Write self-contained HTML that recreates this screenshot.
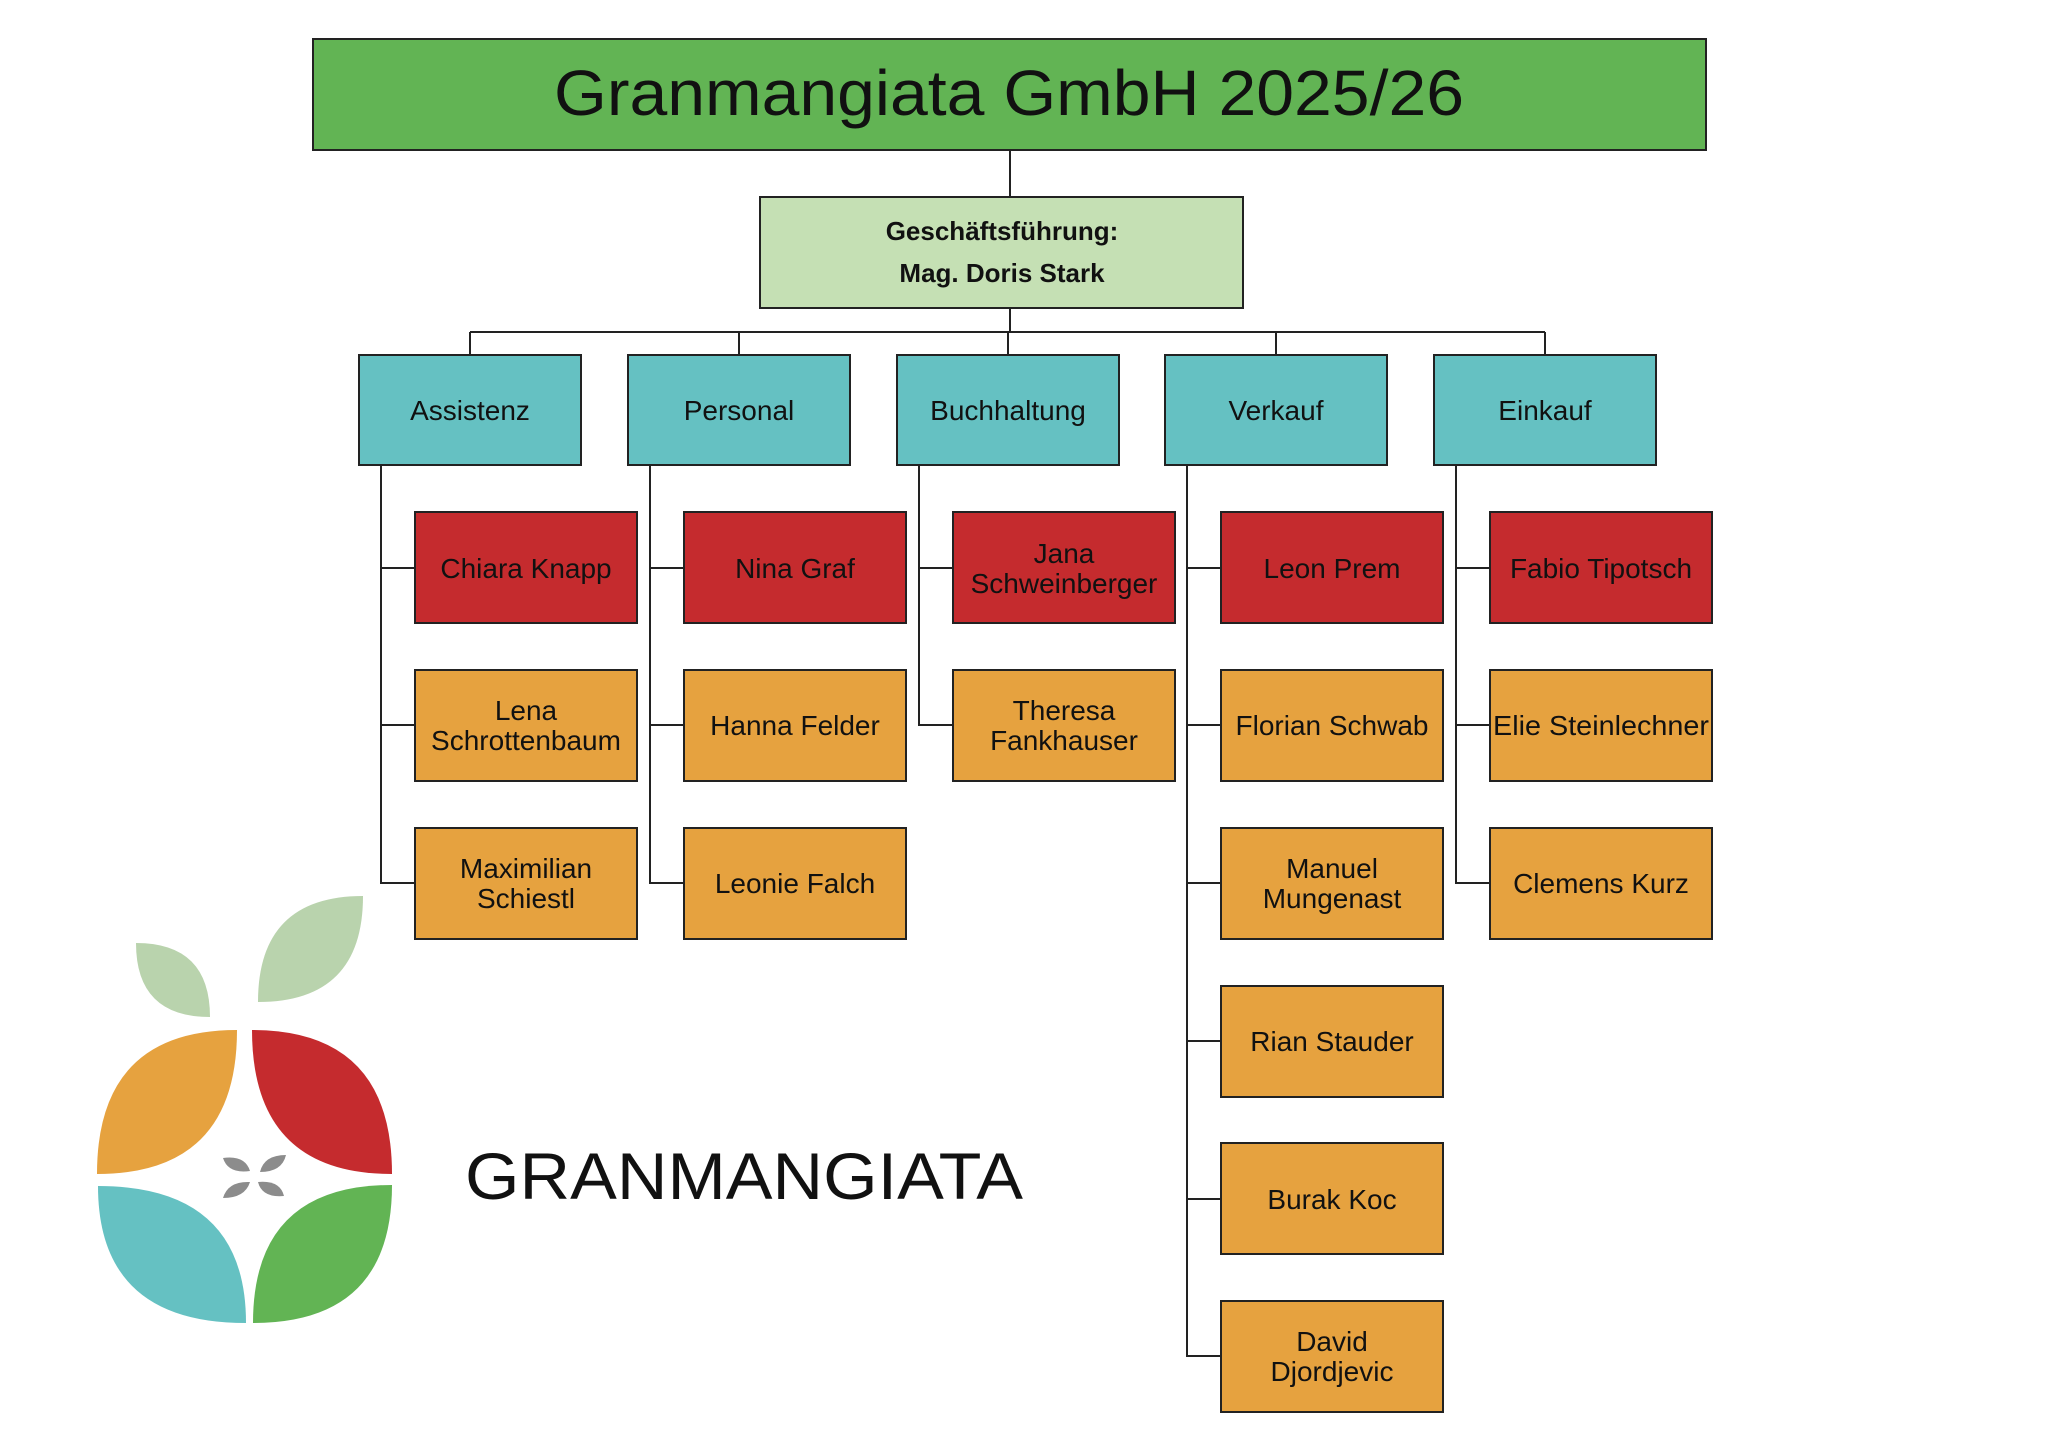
<!DOCTYPE html>
<html><head><meta charset="utf-8"><style>
html,body{margin:0;padding:0;background:#fff}
svg{display:block}
text{font-family:"Liberation Sans","DejaVu Sans",sans-serif;fill:#111}
</style></head><body>
<svg width="2048" height="1449" viewBox="0 0 2048 1449" xmlns="http://www.w3.org/2000/svg">
<g stroke="#222" stroke-width="2" fill="none">
<line x1="1010" y1="150" x2="1010" y2="197"/>
<line x1="1010" y1="308" x2="1010" y2="332"/>
<line x1="470" y1="332" x2="1545" y2="332"/>
<line x1="470" y1="332" x2="470" y2="355"/>
<line x1="739" y1="332" x2="739" y2="355"/>
<line x1="1008" y1="332" x2="1008" y2="355"/>
<line x1="1276" y1="332" x2="1276" y2="355"/>
<line x1="1545" y1="332" x2="1545" y2="355"/>
<!-- trunks -->
<polyline points="381,465 381,883 415,883"/>
<line x1="381" y1="568" x2="415" y2="568"/><line x1="381" y1="725" x2="415" y2="725"/>
<polyline points="650,465 650,883 684,883"/>
<line x1="650" y1="568" x2="684" y2="568"/><line x1="650" y1="725" x2="684" y2="725"/>
<polyline points="919,465 919,725 953,725"/>
<line x1="919" y1="568" x2="953" y2="568"/>
<polyline points="1187,465 1187,1356 1221,1356"/>
<line x1="1187" y1="568" x2="1221" y2="568"/><line x1="1187" y1="725" x2="1221" y2="725"/><line x1="1187" y1="883" x2="1221" y2="883"/><line x1="1187" y1="1041" x2="1221" y2="1041"/><line x1="1187" y1="1199" x2="1221" y2="1199"/>
<polyline points="1456,465 1456,883 1490,883"/>
<line x1="1456" y1="568" x2="1490" y2="568"/><line x1="1456" y1="725" x2="1490" y2="725"/>
</g>
<rect x="313" y="39" width="1393" height="111" fill="#62b454" stroke="#222" stroke-width="2"/>
<text x="1009" y="115" font-size="64" text-anchor="middle" textLength="910" lengthAdjust="spacingAndGlyphs">Granmangiata GmbH 2025/26</text>
<rect x="760" y="197" width="483" height="111" fill="#c5e0b4" stroke="#222" stroke-width="2"/>
<text x="1002" y="240" font-size="26" font-weight="bold" text-anchor="middle">Geschäftsführung:</text>
<text x="1002" y="282" font-size="26" font-weight="bold" text-anchor="middle">Mag. Doris Stark</text>
<g stroke="#222" stroke-width="2" fill="#65c1c2">
<rect x="359" y="355" width="222" height="110"/><rect x="628" y="355" width="222" height="110"/><rect x="897" y="355" width="222" height="110"/><rect x="1165" y="355" width="222" height="110"/><rect x="1434" y="355" width="222" height="110"/>
</g>
<g font-size="28" text-anchor="middle">
<text x="470" y="420">Assistenz</text><text x="739" y="420">Personal</text><text x="1008" y="420">Buchhaltung</text><text x="1276" y="420">Verkauf</text><text x="1545" y="420">Einkauf</text>
</g>
<g stroke="#222" stroke-width="2">
<g fill="#c52b2e">
<rect x="415" y="512" width="222" height="111"/><rect x="684" y="512" width="222" height="111"/><rect x="953" y="512" width="222" height="111"/><rect x="1221" y="512" width="222" height="111"/><rect x="1490" y="512" width="222" height="111"/>
</g>
<g fill="#e6a23f">
<rect x="415" y="670" width="222" height="111"/><rect x="684" y="670" width="222" height="111"/><rect x="953" y="670" width="222" height="111"/><rect x="1221" y="670" width="222" height="111"/><rect x="1490" y="670" width="222" height="111"/>
<rect x="415" y="828" width="222" height="111"/><rect x="684" y="828" width="222" height="111"/><rect x="1221" y="828" width="222" height="111"/><rect x="1490" y="828" width="222" height="111"/>
<rect x="1221" y="986" width="222" height="111"/><rect x="1221" y="1143" width="222" height="111"/><rect x="1221" y="1301" width="222" height="111"/>
</g>
</g>
<g font-size="28" text-anchor="middle">
<text x="526" y="578">Chiara Knapp</text>
<text x="795" y="578">Nina Graf</text>
<text x="1064" y="563">Jana</text><text x="1064" y="593">Schweinberger</text>
<text x="1332" y="578">Leon Prem</text>
<text x="1601" y="578">Fabio Tipotsch</text>
<text x="526" y="720">Lena</text><text x="526" y="750">Schrottenbaum</text>
<text x="795" y="735">Hanna Felder</text>
<text x="1064" y="720">Theresa</text><text x="1064" y="750">Fankhauser</text>
<text x="1332" y="735">Florian Schwab</text>
<text x="1601" y="735" textLength="216" lengthAdjust="spacingAndGlyphs">Elie Steinlechner</text>
<text x="526" y="878">Maximilian</text><text x="526" y="908">Schiestl</text>
<text x="795" y="893">Leonie Falch</text>
<text x="1332" y="878">Manuel</text><text x="1332" y="908">Mungenast</text>
<text x="1601" y="893">Clemens Kurz</text>
<text x="1332" y="1051">Rian Stauder</text>
<text x="1332" y="1209">Burak Koc</text>
<text x="1332" y="1351">David</text><text x="1332" y="1381">Djordjevic</text>
</g>
<!-- logo -->
<path d="M97,1174 Q97,1030 237,1030 Q237,1174 97,1174Z" fill="#e6a23f"/>
<path d="M252,1030 Q392,1030 392,1174 Q252,1174 252,1030Z" fill="#c52b2e"/>
<path d="M98,1186 Q246,1186 246,1323 Q98,1323 98,1186Z" fill="#65c1c2"/>
<path d="M253,1323 Q253,1185 392,1185 Q392,1323 253,1323Z" fill="#62b454"/>
<path d="M136,943 Q210,943 210,1017 Q136,1017 136,943Z" fill="#b9d3ad"/>
<path d="M363,896 Q363,1002 258,1002 Q258,896 363,896Z" fill="#b9d3ad"/>
<g fill="#8c8c8c">
<path d="M223,1158 Q245,1155 250,1171 Q228,1174 223,1158Z"/>
<path d="M286,1155 Q282,1172 260,1172 Q264,1155 286,1155Z"/>
<path d="M223,1198 Q228,1181 250,1182 Q245,1198 223,1198Z"/>
<path d="M284,1196 Q262,1198 258,1182 Q280,1180 284,1196Z"/>
</g>
<text x="465" y="1199" font-size="66" textLength="558" lengthAdjust="spacingAndGlyphs">GRANMANGIATA</text>
</svg>
</body></html>
